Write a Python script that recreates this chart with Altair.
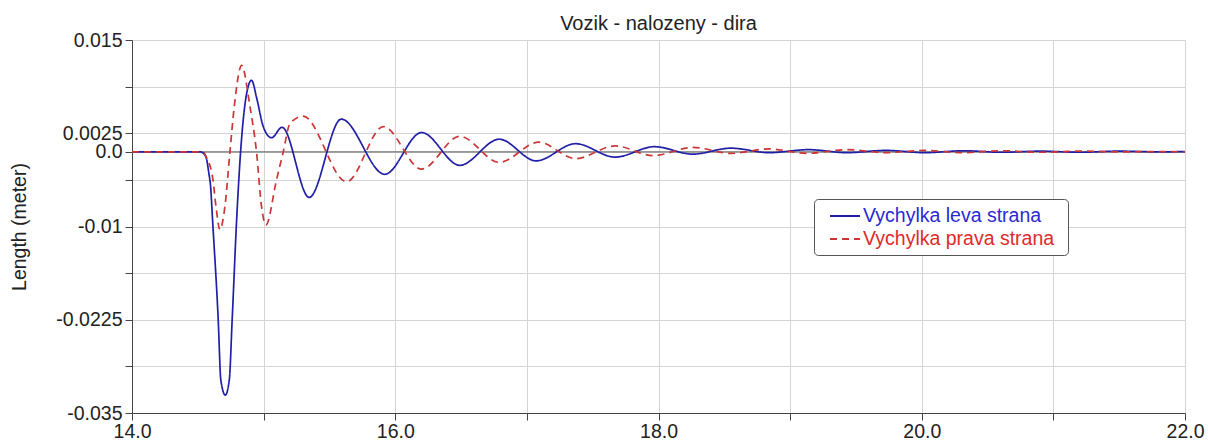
import altair as alt
import pandas as pd

# ---- data ----
series_names = ["Vychylka leva strana", "Vychylka prava strana"]

t_leva = [14.0, 14.52, 14.56, 14.585, 14.597, 14.612, 14.655, 14.675, 14.709, 14.739,
          14.761, 14.795, 14.825, 14.865, 14.908, 14.95, 14.997, 15.06, 15.14, 15.346,
          15.59, 15.92, 16.20, 16.49, 16.79, 17.07, 17.37, 17.67, 17.97, 18.26,
          18.55, 18.84, 19.14, 19.43, 19.73, 20.02, 20.32, 20.61, 20.90, 21.20,
          21.50, 21.80, 22.0]
v_leva = [0.0, 0.0, -0.0006, -0.003, -0.0046, -0.0091, -0.0225, -0.0306, -0.0326, -0.0306,
          -0.0225, -0.0091, 0.0, 0.0072, 0.0096, 0.0070, 0.0034, 0.0019, 0.0033, -0.0061,
          0.0044, -0.0030, 0.0026, -0.0018, 0.0017, -0.0012, 0.0011, -0.0007, 0.0007, -0.0003,
          0.0005, -0.0001, 0.0003, -0.0001, 0.0002, -0.0001, 0.00015, -0.00005, 0.0001, -0.00005,
          0.0001, 0.0, 0.00005]

t_prava = [14.0, 14.54, 14.567, 14.615, 14.638, 14.668, 14.706, 14.744, 14.777, 14.833,
           14.896, 14.946, 14.984, 15.017, 15.098, 15.149, 15.20, 15.30, 15.63, 15.91,
           16.20, 16.49, 16.79, 17.09, 17.37, 17.67, 17.96, 18.26, 18.55, 18.84,
           19.13, 19.43, 19.72, 20.02, 20.31, 20.61, 20.90, 21.20, 21.50, 21.80, 22.0]
v_prava = [0.0, 0.0, -0.0008, -0.00375, -0.0073, -0.0104, -0.0073, 0.0, 0.0061, 0.0116,
           0.0061, 0.0, -0.0073, -0.0098, -0.00375, 0.0, 0.0038, 0.0048, -0.0040, 0.0034,
           -0.0023, 0.0021, -0.0014, 0.0013, -0.0009, 0.0008, -0.0005, 0.0006, -0.0002, 0.0004,
           -0.0002, 0.0003, -0.0001, 0.0002, -0.0001, 0.00015, -0.00005, 0.0001, 0.0, 0.00005, 0.0]

zero_level = [0.0]

x_ticks = [14, 15, 16, 17, 18, 19, 20, 21, 22]
x_labels = ["14.0", "", "16.0", "", "18.0", "", "20.0", "", "22.0"]
y_ticks = [-0.035, -0.02875, -0.0225, -0.01625, -0.01, -0.00375, 0.0, 0.0025, 0.00875, 0.015]
y_labels = ["-0.035", "", "-0.0225", "", "-0.01", "", "0.0", "0.0025", "", "0.015"]

title_text = "Vozik - nalozeny - dira"
y_title = "Length (meter)"

line_colors = ["#1f1fa8", "#cc3535"]
label_colors = ["#2a2ad2", "#dd2b2b"]
dashes = [[1, 0], [7, 5]]

FONT = "Liberation Sans"
FS = 19.5

# ---- build table ----
rows = []
for t, v in zip(t_leva, v_leva):
    rows.append({"t": t, "v": v, "s": series_names[0]})
for t, v in zip(t_prava, v_prava):
    rows.append({"t": t, "v": v, "s": series_names[1]})
df = pd.DataFrame(rows)


def label_expr(values, labels):
    expr = "''"
    for val, lab in reversed(list(zip(values, labels))):
        expr = f"datum.value == {val!r} ? '{lab}' : ({expr})"
    return expr


legend_label_color = {
    "expr": f"datum.label == '{series_names[0]}' ? '{label_colors[0]}' : '{label_colors[1]}'"
}

legend = alt.Legend(
    title=" ",
    titleOrient="right",
    titlePadding=8,
    titleFontSize=8,
    orient="none",
    legendX=682,
    legendY=159,
    direction="vertical",
    symbolType="M-1.5,0L1.5,0",
    symbolSize=400,
    symbolStrokeWidth=1.8,
    symbolOffset=14,
    labelFontSize=FS,
    labelFont=FONT,
    labelColor=legend_label_color,
    labelLimit=400,
    labelOffset=7,
    padding=6,
    rowPadding=2,
    strokeColor="#555555",
    fillColor="white",
    cornerRadius=4,
)

y_scale = alt.Scale(domain=[-0.035, 0.015], nice=False, zero=False)
y_axis = alt.Axis(
    values=y_ticks,
    labelExpr=label_expr(y_ticks, y_labels),
    title=y_title,
    titleFont=FONT,
    titleFontSize=FS,
    titleFontWeight="normal",
    titleColor="#222222",
    titlePadding=26,
    grid=True,
    gridColor="#d4d4d4",
    tickSize=7,
    tickColor="#444444",
    domainColor="#444444",
    labelFontSize=FS,
    labelFont=FONT,
    labelColor="#222222",
    labelFlush=False,
    labelOverlap=False,
    labelPadding=3,
)

x_enc = alt.X(
    "t:Q",
    scale=alt.Scale(domain=[14, 22], nice=False, zero=False),
    axis=alt.Axis(
        values=x_ticks,
        labelExpr=label_expr(x_ticks, x_labels),
        title=None,
        grid=True,
        gridColor="#d4d4d4",
        tickSize=7,
        tickColor="#444444",
        domainColor="#444444",
        labelFontSize=FS,
        labelFont=FONT,
        labelColor="#222222",
        labelFlush=False,
        labelOverlap=False,
        labelPadding=2,
    ),
)

lines = alt.Chart(df).mark_line(interpolate="monotone", strokeWidth=1.7).encode(
    x=x_enc,
    y=alt.Y("v:Q", scale=y_scale, axis=y_axis),
    color=alt.Color("s:N", scale=alt.Scale(domain=series_names, range=line_colors), legend=legend),
    strokeDash=alt.StrokeDash("s:N", scale=alt.Scale(domain=series_names, range=dashes), legend=legend),
)

zero_rule = alt.Chart(pd.DataFrame({"v": zero_level})).mark_rule(color="#555555", strokeWidth=1).encode(
    y=alt.Y("v:Q", scale=y_scale, axis=y_axis)
)

chart = (
    alt.layer(zero_rule, lines)
    .properties(
        width=1053,
        height=373,
        title=alt.TitleParams(
            title_text, font=FONT, fontSize=20, fontWeight="normal", color="#222222",
            anchor="middle", offset=-4,
        ),
        autosize=alt.AutoSizeParams(type="none"),
        padding={"left": 132, "top": 40, "right": 23, "bottom": 28},
    )
    .configure_view(stroke="#555555", strokeWidth=1)
    .configure(background="white")
)

chart.save("out.html", embed_options={"renderer": "svg", "actions": False})
